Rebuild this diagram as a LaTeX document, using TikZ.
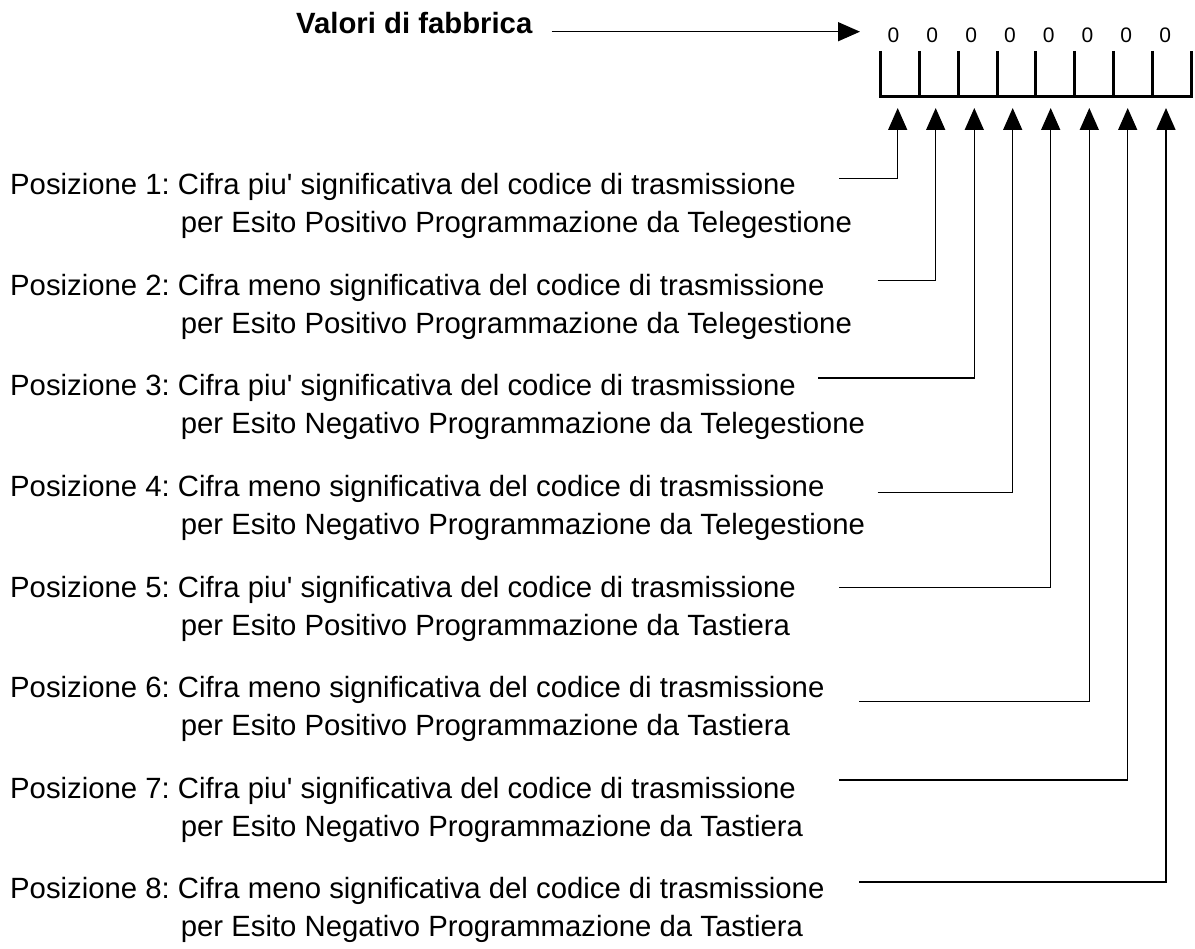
\documentclass[tikz,border=0pt]{standalone}
\usepackage{fontspec}
\setmainfont{Liberation Sans}
\usetikzlibrary{arrows.meta}
\frenchspacing
\begin{document}
\begin{tikzpicture}[x=1pt,y=-1pt,
  lbl/.style={anchor=base west, inner sep=0pt, font=\fontsize{29.3}{35}\selectfont},
  title/.style={anchor=base west, inner sep=0pt, font=\fontsize{29.3}{35}\selectfont\bfseries},
  digit/.style={anchor=base, inner sep=0pt, font=\fontsize{21}{25}\selectfont},
  conn/.style={line width=1.5pt, -{Triangle[width=19pt,length=22pt]}},
  boxline/.style={line width=3pt, line join=miter}
]
\useasboundingbox (0,0) rectangle (1195,949);

% title and arrow
\node[title] (val) at (296,34) {Valori di fabbrica};
\coordinate (valend) at (551.7,31.7);
\coordinate (valtip) at (860,31.7);
\draw[conn] (valend) -- (valtip);

% digits
\foreach \j in {0,...,7}{
  \node[digit] (d\j) at ({893.5+38.8*\j},43) {0};
}

% box
\draw[boxline] (880.7,51) -- (880.7,97) -- (1191,97) -- (1191,51);
\foreach \j in {1,...,7}{
  \draw[boxline] ({880.7+38.8*\j},51) -- ({880.7+38.8*\j},97);
}

% texts
\foreach \i/\w/\e/\t in {
  1/{piu\textquotesingle}/Positivo/Telegestione,
  2/meno/Positivo/Telegestione,
  3/{piu\textquotesingle}/Negativo/Telegestione,
  4/meno/Negativo/Telegestione,
  5/{piu\textquotesingle}/Positivo/Tastiera,
  6/meno/Positivo/Tastiera,
  7/{piu\textquotesingle}/Negativo/Tastiera,
  8/meno/Negativo/Tastiera}{
  \node[lbl] (p\i a) at (10,{195+100.5*(\i-1)}) {Posizione \i: Cifra \w\ significativa del codice di trasmissione};
  \node[lbl] (p\i b) at (180.7,{233+100.5*(\i-1)}) {per Esito \e\ Programmazione da \t};
}

% connectors
\coordinate (s1) at (839,178.3);   \coordinate (t1) at (897.7,108);
\coordinate (s2) at (877.7,280.7); \coordinate (t2) at (935.7,108);
\coordinate (s3) at (818,378);     \coordinate (t3) at (974.3,108);
\coordinate (s4) at (877.7,492.3); \coordinate (t4) at (1012.7,108);
\coordinate (s5) at (839,587.3);   \coordinate (t5) at (1050.7,108);
\coordinate (s6) at (859.3,701.7); \coordinate (t6) at (1089.3,108);
\coordinate (s7) at (839,780);     \coordinate (t7) at (1127.7,108);
\coordinate (s8) at (859,882);     \coordinate (t8) at (1166,108);
\foreach \k in {1,...,8}{
  \draw[conn] (s\k) -| (t\k);
}
\end{tikzpicture}
\end{document}
